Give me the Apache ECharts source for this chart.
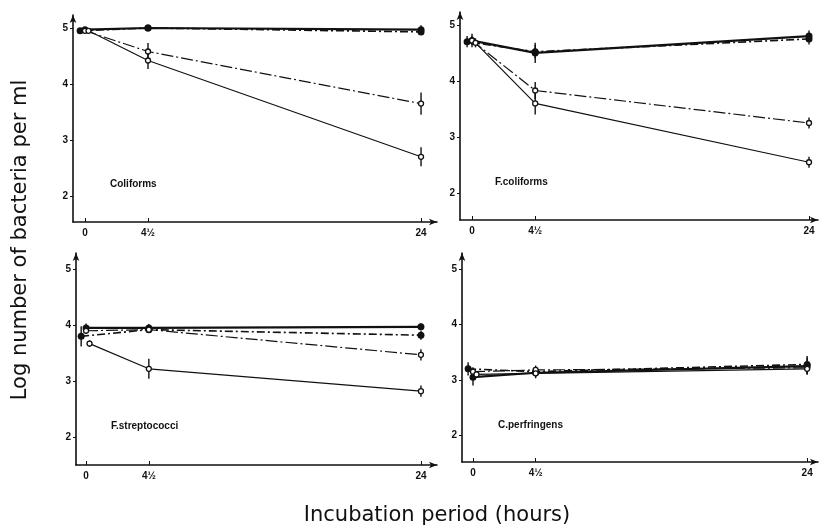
<!DOCTYPE html>
<html>
<head>
<meta charset="utf-8">
<script src="https://cdn.jsdelivr.net/npm/echarts@6/dist/echarts.min.js"></script>
<style>
  html, body { margin: 0; padding: 0; background: #fff; }
  #main { width: 821px; height: 527px; }
</style>
</head>
<body>
<div id="main"></div>
<script>
/* data: Begin */
var hours = [0, 4.5, 24];
var hourLabels = ['0', '4½', '24'];
var logTicks = [2, 3, 4, 5];
var panelNames = ['Coliforms', 'F.coliforms', 'F.streptococci', 'C.perfringens'];

// shift of the first (0 h) point per line, in hours, as drawn
var startShift = [0, -0.35, 0, 0.25];

var coliClosedA = [4.97, 5.0, 4.97];
var coliClosedB = [4.95, 5.0, 4.93];
var coliOpenA = [4.95, 4.58, 3.65];
var coliOpenB = [4.95, 4.42, 2.70];
var coliErr = [[0.03, 0.02, 0.08], [0.03, 0.02, 0.05], [0.02, 0.15, 0.2], [0.02, 0.15, 0.17]];

var fcoliClosedA = [4.72, 4.50, 4.80];
var fcoliClosedB = [4.70, 4.52, 4.75];
var fcoliOpenA = [4.72, 3.83, 3.25];
var fcoliOpenB = [4.68, 3.60, 2.55];
var fcoliErr = [[0.12, 0.18, 0.1], [0.1, 0.12, 0.1], [0.08, 0.15, 0.1], [0.08, 0.2, 0.1]];

var strepClosedA = [3.95, 3.95, 3.97];
var strepClosedB = [3.80, 3.92, 3.82];
var strepOpenA = [3.90, 3.92, 3.47];
var strepOpenB = [3.67, 3.22, 2.82];
var strepErr = [[0.08, 0.07, 0.06], [0.18, 0.06, 0.08], [0.05, 0.05, 0.1], [0.06, 0.18, 0.1]];

var perfClosedA = [3.05, 3.13, 3.25];
var perfClosedB = [3.20, 3.15, 3.28];
var perfOpenA = [3.15, 3.18, 3.22];
var perfOpenB = [3.10, 3.12, 3.20];
var perfErr = [[0.15, 0.1, 0.15], [0.12, 0.08, 0.15], [0.08, 0.08, 0.1], [0.06, 0.06, 0.1]];
/* data: End */

var panels = [
    { lines: [coliClosedA, coliClosedB, coliOpenA, coliOpenB], err: coliErr },
    { lines: [fcoliClosedA, fcoliClosedB, fcoliOpenA, fcoliOpenB], err: fcoliErr },
    { lines: [strepClosedA, strepClosedB, strepOpenA, strepOpenB], err: strepErr },
    { lines: [perfClosedA, perfClosedB, perfOpenA, perfOpenB], err: perfErr }
];

// layout of each small chart (pixels) and its axis ranges
var boxes = [
    { left: 73, top: 15, width: 364, height: 207, xMin: -0.857, xMax: 25.14, yMin: 1.536, yMax: 5.232, labelX: 110, labelY: 185 },
    { left: 460, top: 12, width: 358, height: 208, xMin: -0.855, xMax: 24.64, yMin: 1.52, yMax: 5.23, labelX: 495, labelY: 183 },
    { left: 76, top: 253, width: 361, height: 212, xMin: -0.72, xMax: 25.15, yMin: 1.5, yMax: 5.29, labelX: 111, labelY: 427 },
    { left: 462, top: 253, width: 356, height: 209, xMin: -0.79, xMax: 24.78, yMin: 1.52, yMax: 5.29, labelX: 498, labelY: 426 }
];

// how each of the four lines is drawn
var looks = [
    { filled: true, width: 2.2, type: 'solid', size: 7 },
    { filled: true, width: 1.6, type: [8, 3, 2, 3], size: 7 },
    { filled: false, width: 1.2, type: [12, 3, 2, 3], size: 5 },
    { filled: false, width: 1.2, type: 'solid', size: 5 }
];

var tickFont = { color: '#111', fontSize: 10, fontWeight: 'bold', fontFamily: 'Liberation Sans' };

var grids = [], xAxes = [], yAxes = [], series = [], graphics = [];

boxes.forEach(function (b, p) {
    grids.push({ left: b.left, top: b.top, width: b.width, height: b.height, containLabel: false });
    xAxes.push({
        type: 'value', gridIndex: p, min: b.xMin, max: b.xMax,
        splitLine: { show: false },
        axisLine: { onZero: false, symbol: ['none', 'arrow'], symbolSize: [5, 8], lineStyle: { color: '#111', width: 1.6 } },
        axisTick: { inside: true, length: 4, customValues: hours, lineStyle: { color: '#111' } },
        axisLabel: {
            customValues: hours, margin: 6, color: tickFont.color, fontSize: tickFont.fontSize,
            fontWeight: tickFont.fontWeight, fontFamily: tickFont.fontFamily,
            formatter: function (v) { return hourLabels[hours.indexOf(v)]; }
        }
    });
    yAxes.push({
        type: 'value', gridIndex: p, min: b.yMin, max: b.yMax,
        splitLine: { show: false },
        axisLine: { onZero: false, symbol: ['none', 'arrow'], symbolSize: [5, 8], lineStyle: { color: '#111', width: 1.6 } },
        axisTick: { length: 3, customValues: logTicks, lineStyle: { color: '#111' } },
        axisLabel: {
            customValues: logTicks, margin: 5, color: tickFont.color, fontSize: tickFont.fontSize,
            fontWeight: tickFont.fontWeight, fontFamily: tickFont.fontFamily
        }
    });

    var pan = panels[p];
    pan.lines.forEach(function (vals, s) {
        var lk = looks[s];
        var pts = vals.map(function (v, i) {
            return [hours[i] + (i === 0 ? startShift[s] : 0), v];
        });
        series.push({
            type: 'line', xAxisIndex: p, yAxisIndex: p,
            data: pts,
            symbol: 'circle', symbolSize: lk.size,
            itemStyle: { color: lk.filled ? '#111' : '#fff', borderColor: '#111', borderWidth: lk.filled ? 0 : 1.3 },
            lineStyle: { color: '#111', width: lk.width, type: lk.type },
            silent: true, z: lk.filled ? 3 : 4
        });
        var bars = vals.map(function (v, i) {
            return [hours[i] + (i === 0 ? startShift[s] : 0), v - pan.err[s][i], v + pan.err[s][i]];
        });
        series.push({
            type: 'custom', xAxisIndex: p, yAxisIndex: p,
            data: bars, silent: true, z: 2,
            renderItem: function (params, api) {
                var lo = api.coord([api.value(0), api.value(1)]);
                var hi = api.coord([api.value(0), api.value(2)]);
                return {
                    type: 'line',
                    shape: { x1: lo[0], y1: lo[1], x2: hi[0], y2: hi[1] },
                    style: { stroke: '#111', lineWidth: 1.4 }
                };
            }
        });
    });

    graphics.push({
        type: 'text', left: b.labelX, top: b.labelY - 6,
        style: { text: panelNames[p], fill: '#111', font: 'bold 10px "Liberation Sans"' }
    });
});

graphics.push({
    type: 'text', x: 21, y: 240, rotation: Math.PI / 2,
    style: {
        text: 'Log number of bacteria per ml', fill: '#111',
        font: '21px "DejaVu Sans"', align: 'center', verticalAlign: 'middle'
    }
});
graphics.push({
    type: 'text', x: 437, y: 516,
    style: {
        text: 'Incubation period (hours)', fill: '#111',
        font: '21px "DejaVu Sans"', align: 'center', verticalAlign: 'middle'
    }
});

var myChart = echarts.init(document.getElementById('main'));
var option = {
    animation: false,
    backgroundColor: '#fff',
    grid: grids,
    xAxis: xAxes,
    yAxis: yAxes,
    series: series,
    graphic: graphics
};
myChart.setOption(option);
</script>
</body>
</html>
